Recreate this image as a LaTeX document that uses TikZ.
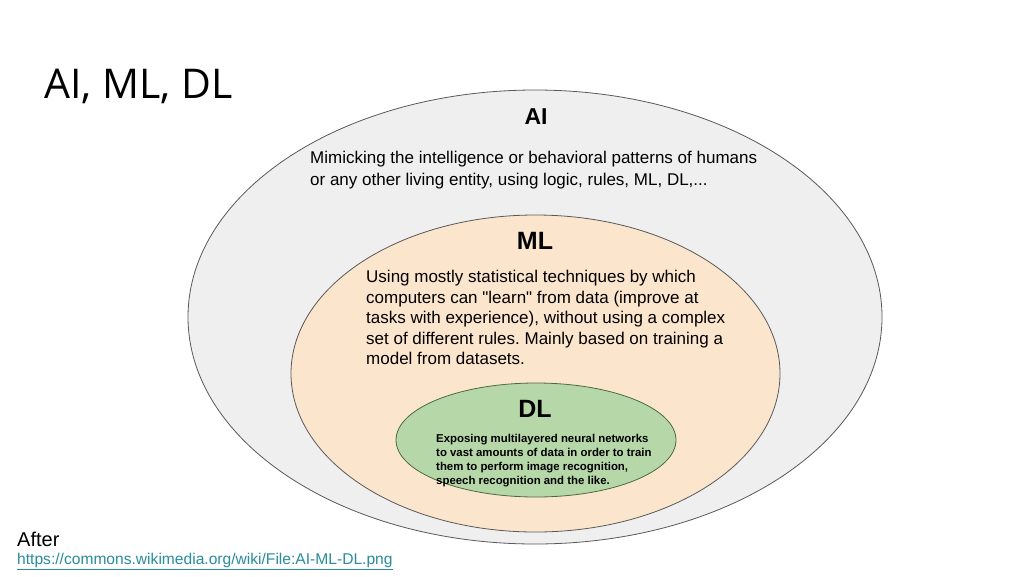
\documentclass[tikz,border=0pt]{standalone}
\usepackage{fontspec}
\setmainfont{Liberation Sans}
\newfontfamily\titlefont{Open Sans}
\newcommand\straightquote{\XeTeXglyph\XeTeXcharglyph34\relax}
\definecolor{aifill}{HTML}{EFEFEF}
\definecolor{mlfill}{HTML}{FCE5CD}
\definecolor{dlfill}{HTML}{B6D7A8}
\definecolor{edge}{HTML}{595959}
\definecolor{dledge}{HTML}{4A6B3A}
\definecolor{linkc}{HTML}{2A8C9C}
\begin{document}
\frenchspacing
\begin{tikzpicture}[x=1pt,y=-1pt,
  blob/.style={draw=edge,line width=0.8pt},
  head/.style={font=\bfseries\fontsize{25}{28}\selectfont,inner sep=0pt},
  para/.style={anchor=north west,inner sep=0pt,align=left}]
\useasboundingbox[fill=white] (0,0) rectangle (1024,576);
\node[anchor=west,inner sep=0pt,font=\titlefont\fontsize{41}{48}\selectfont] (title) at (44,86) {AI, ML, DL};
\draw[blob,fill=aifill] (535,317) ellipse [x radius=347,y radius=227];
\draw[blob,fill=mlfill] (535.5,373.5) ellipse [x radius=244.5,y radius=158.5];
\draw[draw=dledge,line width=0.8pt,fill=dlfill] (536,440) ellipse [x radius=140,y radius=57];
\node[head,font=\bfseries\fontsize{23}{26}\selectfont] (ai) at (536,117) {AI};
\node[para,font=\fontsize{17}{22}\selectfont] (aitext) at (310,151) {Mimicking the intelligence or behavioral patterns of humans\\or any other living entity, using logic, rules, ML, DL,...};
\node[head] (ml) at (535,241) {ML};
\node[para,font=\fontsize{17}{20.6}\selectfont] (mltext) at (366,270) {Using mostly statistical techniques by which\\computers can \straightquote learn\straightquote{} from data (improve at\\tasks with experience), without using a complex\\set of different rules. Mainly based on training a\\model from datasets.};
\node[head] (dl) at (535,409) {DL};
\node[para,font=\bfseries\fontsize{11.4}{14}\selectfont] (dltext) at (436,434) {Exposing multilayered neural networks\\to vast amounts of data in order to train\\them to perform image recognition,\\speech recognition and the like.};
\node[anchor=west,inner sep=0pt,font=\fontsize{20}{22}\selectfont] (after) at (17,539) {After};
\node[anchor=west,inner sep=0pt,font=\fontsize{15.6}{18}\selectfont,text=linkc] (link) at (17,560) {https://commons.wikimedia.org/wiki/File:AI-ML-DL.png};
\draw[linkc,line width=0.7pt] ([yshift=-2pt]link.south west) -- ([yshift=-2pt]link.south east);
\end{tikzpicture}
\end{document}
